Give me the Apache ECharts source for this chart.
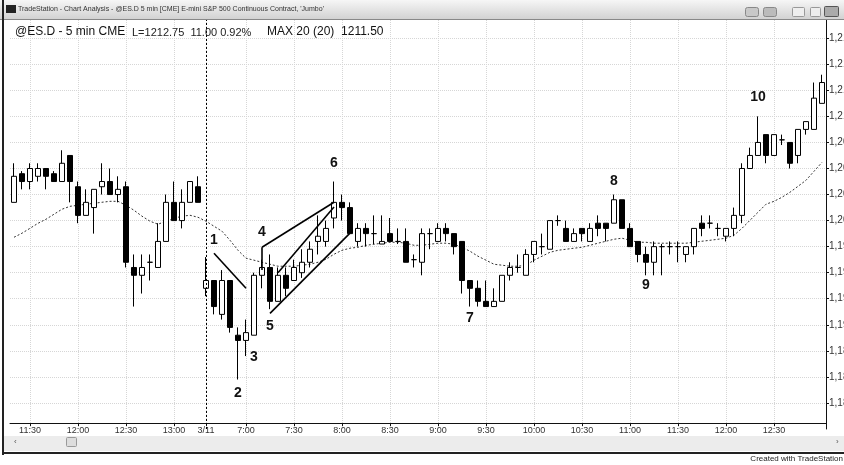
<!DOCTYPE html>
<html>
<head>
<meta charset="utf-8">
<title>@ES.D - 5 min CME</title>
<script src="https://cdn.jsdelivr.net/npm/echarts@6/dist/echarts.min.js"></script>
<style>
  html, body { margin: 0; padding: 0; background: #fff; }
  #main { width: 844px; height: 465px; }
</style>
</head>
<body>
<div id="main"></div>
<script>
// 5 minute bar times: end of the 3/10 session, then the 3/11 session
var times = [];
function addSession(day, h, m, count) {
    for (var k = 0; k < count; k++) {
        times.push(day + ' ' + h + ':' + (m < 10 ? '0' + m : m));
        m += 5;
        if (m >= 60) { m -= 60; h += 1; }
    }
}
addSession('3/10', 11, 20, 24);
addSession('3/11', 6, 35, 78);

// [open, high, low, close] per bar
var bars = [
    [1201.75, 1205.5, 1201.75, 1204.25], [1204.5, 1204.75, 1203.0, 1203.75],
    [1203.75, 1205.5, 1203.0, 1205.0], [1204.25, 1205.5, 1203.75, 1205.0],
    [1205.0, 1205.0, 1203.0, 1204.25], [1204.5, 1204.75, 1203.75, 1203.75],
    [1203.75, 1206.75, 1203.75, 1205.5], [1206.25, 1206.25, 1201.75, 1203.75],
    [1203.25, 1203.75, 1199.75, 1200.5], [1200.5, 1203.0, 1200.5, 1201.75],
    [1201.25, 1203.0, 1198.75, 1203.0], [1203.25, 1205.5, 1202.5, 1203.75],
    [1203.75, 1205.0, 1202.5, 1202.5], [1202.5, 1204.25, 1201.75, 1203.0],
    [1203.25, 1203.75, 1195.5, 1196.0], [1195.5, 1196.75, 1191.75, 1194.75],
    [1194.75, 1196.75, 1193.0, 1195.5], [1196.0, 1196.75, 1194.25, 1196.0],
    [1195.5, 1199.75, 1195.5, 1198.0], [1198.0, 1202.5, 1198.0, 1201.75],
    [1201.75, 1203.75, 1200.0, 1200.0], [1200.0, 1203.0, 1199.25, 1201.75],
    [1201.75, 1203.75, 1201.75, 1203.75], [1203.25, 1204.25, 1201.75, 1201.75],
    // 3/11
    [1193.5, 1196.5, 1192.75, 1194.25], [1194.25, 1194.25, 1191.0, 1191.75],
    [1191.0, 1195.25, 1190.5, 1194.25], [1194.25, 1194.25, 1189.25, 1189.75],
    [1189.0, 1189.75, 1184.75, 1188.5], [1188.5, 1190.5, 1187.0, 1189.25],
    [1189.0, 1195.0, 1189.0, 1194.75], [1194.75, 1196.25, 1193.5, 1195.5],
    [1195.5, 1196.75, 1191.5, 1192.25], [1192.25, 1195.5, 1192.25, 1194.75],
    [1194.75, 1195.5, 1192.75, 1193.5], [1194.25, 1196.25, 1194.25, 1195.5],
    [1195.0, 1197.25, 1194.5, 1196.0], [1196.0, 1198.0, 1195.5, 1197.25],
    [1198.0, 1200.5, 1196.75, 1198.5], [1198.0, 1200.0, 1197.5, 1199.25],
    [1200.25, 1203.75, 1199.25, 1201.75], [1201.75, 1202.5, 1200.0, 1201.25],
    [1201.25, 1201.75, 1198.75, 1198.75], [1198.0, 1199.75, 1197.5, 1199.25],
    [1199.25, 1199.75, 1197.5, 1198.75], [1198.75, 1200.5, 1197.75, 1198.75],
    [1197.75, 1200.5, 1197.75, 1198.0], [1198.75, 1200.25, 1198.0, 1198.0],
    [1198.0, 1199.25, 1197.75, 1198.0], [1198.0, 1199.25, 1196.0, 1196.0],
    [1196.25, 1196.75, 1195.5, 1196.25], [1196.0, 1199.25, 1194.75, 1198.75],
    [1198.75, 1199.25, 1197.25, 1198.75], [1198.0, 1199.75, 1198.0, 1199.25],
    [1199.25, 1199.75, 1198.0, 1198.75], [1198.75, 1198.75, 1196.75, 1197.5],
    [1198.0, 1198.0, 1193.0, 1194.25], [1194.25, 1194.25, 1191.75, 1193.5],
    [1193.5, 1194.25, 1191.75, 1192.25], [1192.25, 1194.25, 1191.75, 1191.75],
    [1191.75, 1193.5, 1191.75, 1192.25], [1192.25, 1194.75, 1192.25, 1194.75],
    [1194.75, 1196.0, 1194.25, 1195.5], [1195.5, 1196.75, 1195.0, 1195.5],
    [1194.75, 1197.25, 1194.75, 1196.75], [1196.75, 1198.0, 1196.0, 1198.0],
    [1197.5, 1198.75, 1196.75, 1197.5], [1197.25, 1200.0, 1197.25, 1200.0],
    [1200.0, 1200.5, 1199.5, 1200.0], [1199.25, 1200.0, 1198.0, 1198.0],
    [1198.0, 1199.25, 1198.0, 1198.75], [1199.25, 1199.25, 1198.0, 1198.75],
    [1198.0, 1199.75, 1198.0, 1199.25], [1199.75, 1200.5, 1198.5, 1199.25],
    [1199.75, 1199.75, 1198.0, 1199.25], [1199.75, 1202.5, 1199.75, 1202.0],
    [1202.0, 1202.0, 1199.25, 1199.25], [1199.25, 1199.75, 1197.5, 1197.5],
    [1198.0, 1198.0, 1196.0, 1196.75], [1196.75, 1197.5, 1194.75, 1196.0],
    [1196.0, 1198.0, 1194.75, 1197.5], [1197.5, 1197.75, 1194.75, 1197.5],
    [1197.5, 1198.0, 1196.75, 1197.5], [1197.5, 1198.0, 1196.0, 1197.5],
    [1196.75, 1197.5, 1196.0, 1197.5], [1197.5, 1199.25, 1196.75, 1199.25],
    [1199.75, 1200.5, 1198.5, 1199.25], [1199.75, 1200.5, 1199.25, 1199.75],
    [1199.25, 1199.75, 1198.5, 1199.25], [1198.5, 1199.25, 1198.0, 1199.25],
    [1199.25, 1201.25, 1198.5, 1200.5], [1200.5, 1205.5, 1199.75, 1205.0],
    [1205.0, 1207.0, 1205.0, 1206.25], [1206.25, 1210.0, 1206.25, 1207.5],
    [1208.25, 1208.25, 1205.5, 1206.25], [1206.25, 1208.25, 1206.25, 1208.25],
    [1207.75, 1208.25, 1207.25, 1207.75], [1207.5, 1207.5, 1205.0, 1205.5],
    [1206.25, 1208.75, 1205.5, 1208.75], [1208.75, 1209.5, 1208.25, 1209.5],
    [1208.75, 1213.25, 1208.75, 1211.75], [1211.25, 1214.0, 1211.25, 1213.25]
];

// moving average line as drawn
var ma20 = [
    1198.40, 1198.79, 1199.26, 1199.74, 1200.13, 1200.61, 1201.09, 1201.37,
    1201.47, 1201.57, 1201.66, 1201.76, 1201.85, 1201.85, 1201.47, 1200.99,
    1200.42, 1199.94, 1199.65, 1199.94, 1200.22, 1200.42, 1200.51, 1200.32,
    1199.94, 1199.46, 1198.98, 1198.11, 1197.15, 1196.39, 1196.20, 1196.00,
    1195.81, 1195.62, 1195.62, 1195.62, 1195.72, 1195.81, 1196.00, 1196.29,
    1196.77, 1197.15, 1197.35, 1197.44, 1197.63, 1197.73, 1197.83, 1197.92,
    1197.92, 1197.83, 1197.63, 1197.63, 1197.73, 1197.83, 1197.83, 1197.73,
    1197.44, 1197.06, 1196.58, 1196.20, 1195.81, 1195.72, 1195.62, 1195.62,
    1195.72, 1196.20, 1196.58, 1196.96, 1197.15, 1197.25, 1197.35, 1197.44,
    1197.63, 1197.83, 1198.02, 1198.21, 1198.31, 1198.11, 1197.92, 1197.92,
    1197.83, 1197.83, 1197.83, 1197.83, 1197.83, 1197.92, 1198.02, 1198.11,
    1198.21, 1198.31, 1198.59, 1199.26, 1200.03, 1200.80, 1201.57, 1201.85,
    1202.24, 1202.72, 1203.29, 1203.87, 1204.73, 1205.59
];

// numbered swing labels: [text, bar, price]
var notes = [
    ['1', '3/11 6:40', 1198.1], ['2', '3/11 6:55', 1183.45],
    ['3', '3/11 7:05', 1186.9], ['4', '3/11 7:10', 1198.9],
    ['5', '3/11 7:15', 1189.9], ['6', '3/11 7:55', 1205.5],
    ['7', '3/11 9:20', 1190.6], ['8', '3/11 10:50', 1203.8],
    ['9', '3/11 11:10', 1193.8], ['10', '3/11 12:20', 1211.8]
];

// drawn trend lines: [bar, price] -> [bar, price]
var trendLines = [
    [['3/11 6:40', 1196.87], ['3/11 7:00', 1193.51]],
    [['3/11 7:10', 1195.25], ['3/11 7:10', 1197.44]],
    [['3/11 7:10', 1197.44], ['3/11 7:55', 1201.76]],
    [['3/11 7:20', 1195.0], ['3/11 7:55', 1201.3]],
    [['3/11 7:15', 1191.1], ['3/11 8:05', 1198.8]]
];

var sessionStart = '3/11 6:35';

var FONT = '"Liberation Sans", Arial, sans-serif';

function showTime(i, v) {
    if (v === sessionStart) return true;
    if (i >= times.length - 1) return false;
    var mm = v.split(':')[1];
    return mm === '00' || mm === '30';
}

function priceFmt(v) {
    var s = v.toFixed(2).split('.');
    return s[0].replace(/\B(?=(\d{3})+$)/g, ',') + '.' + s[1];
}

var gridColors = [];
for (var g = 0; g < 18; g++) gridColors.push(g === 0 || g === 16 ? 'rgba(0,0,0,0)' : '#d6d6d6');

var chart = echarts.init(document.getElementById('main'));
chart.setOption({
    animation: false,
    backgroundColor: '#fff',
    textStyle: { fontFamily: FONT },
    grid: { left: 10, right: 18, top: 20, bottom: 36, containLabel: false, outerBoundsMode: 'none' },
    xAxis: {
        type: 'category',
        data: times,
        boundaryGap: true,
        offset: -6,
        axisLine: { lineStyle: { color: '#111', width: 1 } },
        axisTick: { show: true, interval: showTime, alignWithLabel: true, length: 3, lineStyle: { color: '#111' } },
        axisLabel: {
            interval: showTime,
            margin: 3,
            fontSize: 9,
            color: '#333',
            formatter: function (v) { return v === sessionStart ? '3/11' : v.split(' ')[1]; }
        },
        splitLine: { show: true, interval: showTime, alignWithLabel: true, lineStyle: { color: '#d6d6d6', type: 'dotted' } }
    },
    yAxis: {
        type: 'value',
        position: 'right',
        min: 1180,
        max: 1219.25,
        interval: 2.5,
        scale: true,
        axisLine: { show: true, lineStyle: { color: '#111', width: 1 } },
        axisTick: { show: true, length: 3, lineStyle: { color: '#111' } },
        axisLabel: {
            margin: 3,
            fontSize: 10,
            color: '#333',
            showMinLabel: false,
            showMaxLabel: false,
            formatter: priceFmt
        },
        splitLine: { show: true, lineStyle: { color: gridColors, type: 'dotted' } }
    },
    series: [
        {
            name: 'MA 20',
            type: 'line',
            data: ma20,
            symbol: 'none',
            z: 1,
            lineStyle: { color: '#333', width: 1, type: [2, 2] }
        },
        {
            name: '@ES.D',
            type: 'candlestick',
            z: 3,
            barWidth: 6,
            data: bars.map(function (b) { return [b[0], b[3], b[2], b[1]]; }),
            itemStyle: {
                color: '#fff',
                color0: '#000',
                borderColor: '#000',
                borderColor0: '#000',
                borderColorDoji: '#000',
                borderWidth: 1
            },
            markLine: {
                silent: true,
                symbol: ['none', 'none'],
                label: { show: false },
                lineStyle: { color: '#000', width: 1.6, type: 'solid' },
                data: [{ xAxis: sessionStart, lineStyle: { color: '#000', width: 1, type: [2, 2] } }].concat(
                    trendLines.map(function (t) {
                        return [{ coord: t[0] }, { coord: t[1] }];
                    })
                )
            },
            markPoint: {
                silent: true,
                symbol: 'circle',
                symbolSize: 1,
                itemStyle: { color: 'rgba(0,0,0,0)' },
                label: {
                    show: true,
                    position: 'inside',
                    fontSize: 14,
                    fontWeight: 'bold',
                    color: '#111',
                    fontFamily: FONT,
                    formatter: function (p) { return p.name; }
                },
                data: notes.map(function (n) {
                    return { name: n[0], coord: [n[1], n[2]] };
                })
            }
        }
    ],
    graphic: [
        // window title bar
        { type: 'rect', left: 0, top: 0, shape: { width: 844, height: 19 }, z: 10,
          style: { fill: new echarts.graphic.LinearGradient(0, 0, 0, 1, [
              { offset: 0, color: '#f6f6f6' }, { offset: 1, color: '#d2d2d2' }]) } },
        { type: 'rect', left: 0, top: 19, shape: { width: 844, height: 1 }, z: 10, style: { fill: '#888' } },
        { type: 'rect', left: 6, top: 5, shape: { width: 10, height: 8 }, z: 11, style: { fill: '#222' } },
        { type: 'text', left: 18, top: 6, z: 11,
          style: { text: "TradeStation - Chart Analysis - @ES.D 5 min [CME] E-mini S&P 500 Continuous Contract, 'Jumbo'",
                   fontSize: 7, fill: '#333', fontFamily: FONT } },
        { type: 'rect', left: 745, top: 7, shape: { width: 13, height: 9, r: 2 }, z: 11, style: { fill: '#c8c8c8', stroke: '#888' } },
        { type: 'rect', left: 763, top: 7, shape: { width: 13, height: 9, r: 2 }, z: 11, style: { fill: '#bbb', stroke: '#888' } },
        { type: 'rect', left: 792, top: 7, shape: { width: 12, height: 9, r: 1 }, z: 11, style: { fill: '#eee', stroke: '#999' } },
        { type: 'rect', left: 810, top: 7, shape: { width: 10, height: 9, r: 1 }, z: 11, style: { fill: '#eee', stroke: '#999' } },
        { type: 'rect', left: 824, top: 6, shape: { width: 14, height: 10, r: 1 }, z: 11, style: { fill: '#aaa', stroke: '#555' } },
        // window frame
        { type: 'rect', left: 2, top: 0, shape: { width: 2, height: 455 }, z: 11, style: { fill: '#222' } },
        { type: 'rect', left: 4, top: 436, shape: { width: 840, height: 15 }, z: 9, style: { fill: '#ececec' } },
        { type: 'rect', left: 66, top: 437, shape: { width: 10, height: 9, r: 1 }, z: 10, style: { fill: '#ddd', stroke: '#999' } },
        { type: 'text', left: 14, top: 438, z: 10, style: { text: '\u2039', fontSize: 8, fill: '#555' } },
        { type: 'text', left: 836, top: 438, z: 10, style: { text: '\u203a', fontSize: 8, fill: '#555' } },
        { type: 'rect', left: 2, top: 452, shape: { width: 842, height: 2 }, z: 11, style: { fill: '#222' } },
        { type: 'text', right: 1, top: 455, z: 11, style: { text: 'Created with TradeStation', fontSize: 8, fill: '#222', fontFamily: FONT } },
        // data line
        { type: 'text', left: 15, top: 26, z: 11, style: { text: '@ES.D - 5 min CME', fontSize: 12, fill: '#111', fontFamily: FONT } },
        { type: 'text', left: 132, top: 27, z: 11, style: { text: 'L=1212.75  11.00 0.92%', fontSize: 11, fill: '#222', fontFamily: FONT } },
        { type: 'text', left: 267, top: 26, z: 11, style: { text: 'MAX 20 (20)  1211.50', fontSize: 12, fill: '#111', fontFamily: FONT } }
    ]
});
</script>
</body>
</html>
